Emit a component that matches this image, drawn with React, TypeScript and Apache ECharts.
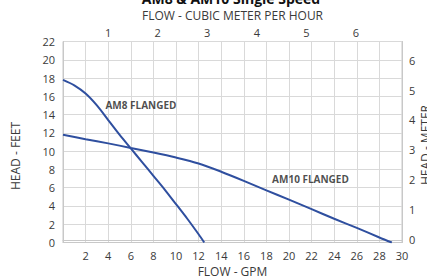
import React, { useEffect, useRef } from "react";
import * as echarts from "echarts";

const titleText = "AM8 & AM10 Single Speed";
const topAxisName = "FLOW - CUBIC METER PER HOUR";
const bottomAxisName = "FLOW - GPM";
const leftAxisName = "HEAD - FEET";
const rightAxisName = "HEAD - METER";

// AM8 flanged curve (GPM, feet)
const am8Flow = [0, 1, 2, 3, 4, 5, 6, 7, 8, 9, 10, 11, 12, 12.5];
const am8Head = [17.8, 17.2, 16.3, 15.0, 13.4, 11.8, 10.3, 8.8, 7.3, 5.8, 4.2, 2.6, 0.9, 0];

// AM10 flanged curve (GPM, feet)
const am10Flow = [0, 2, 4, 6, 8, 10, 12, 14, 16, 18, 20, 22, 24, 26, 28, 29.1];
const am10Head = [11.8, 11.3, 10.85, 10.35, 9.85, 9.3, 8.65, 7.75, 6.75, 5.7, 4.7, 3.65, 2.6, 1.6, 0.55, 0];

// curve labels
const curveLabelNames = ["AM8 FLANGED", "AM10 FLANGED"];
const curveLabelFlow = [6.9, 21.9];
const curveLabelHead = [15.0, 7.0];

// secondary axes tick labels
const cubicMeterTicks = [1, 2, 3, 4, 5, 6];
const meterTicks = [0, 1, 2, 3, 4, 5, 6];

const FONT = "Open Sans";
const TEXT = "#3a3a3a";
const GRID = "#d9d9d9";
const BLUE = "#2f4f9f";

export default function App() {
  const ref = useRef<HTMLDivElement>(null);
  useEffect(() => {
    if (!ref.current) return;
    const chart = echarts.init(ref.current, undefined, { renderer: "svg" });
    const labelStyle = { fontFamily: FONT, fontSize: 11, color: TEXT };
    chart.setOption({
      animation: false,
      textStyle: { fontFamily: FONT },
      graphic: [
        {
          type: "text",
          x: 231,
          y: -2,
          style: {
            text: titleText,
            font: `bold 14px "${FONT}"`,
            fill: "#111",
            align: "center",
            verticalAlign: "middle",
          },
        },
        {
          type: "text",
          x: 15,
          y: 156,
          rotation: Math.PI / 2,
          style: {
            text: leftAxisName,
            font: `12px "${FONT}"`,
            fill: TEXT,
            align: "center",
            verticalAlign: "middle",
          },
        },
        {
          type: "text",
          x: 425,
          y: 145,
          rotation: Math.PI / 2,
          style: {
            text: rightAxisName,
            font: `12px "${FONT}"`,
            fill: TEXT,
            align: "center",
            verticalAlign: "middle",
          },
        },
      ],
      grid: {
        left: 63,
        right: 25,
        top: 41.5,
        bottom: 36.5,
        show: true,
        borderColor: "#c8c8c8",
        borderWidth: 1,
        containLabel: false,
        outerBoundsMode: "none",
      },
      xAxis: [
        {
          type: "value",
          position: "bottom",
          min: 0,
          max: 30,
          interval: 2,
          name: bottomAxisName,
          nameLocation: "middle",
          nameGap: 22,
          nameTextStyle: { ...labelStyle, fontSize: 12 },
          axisLine: { show: true, lineStyle: { color: "#c8c8c8" } },
          axisTick: { show: false },
          axisLabel: { ...labelStyle, margin: 7, formatter: (v: number) => (v === 0 ? "" : String(v)) },
          splitLine: { show: true, lineStyle: { color: GRID } },
        },
        {
          type: "value",
          position: "top",
          min: 0.09,
          max: 6.93,
          name: topAxisName,
          nameLocation: "middle",
          nameGap: 20,
          nameTextStyle: { ...labelStyle, fontSize: 12 },
          axisLine: { show: true, lineStyle: { color: "#c8c8c8" } },
          axisTick: { show: false },
          axisLabel: { ...labelStyle, margin: 4, customValues: cubicMeterTicks },
          splitLine: { show: false },
        },
      ],
      yAxis: [
        {
          type: "value",
          position: "left",
          min: 0,
          max: 22,
          interval: 2,
          axisLine: { show: true, lineStyle: { color: "#c8c8c8" } },
          axisTick: { show: false },
          axisLabel: { ...labelStyle, margin: 8 },
          splitLine: { show: true, lineStyle: { color: GRID } },
        },
        {
          type: "value",
          position: "right",
          min: -0.09,
          max: 6.62,
          axisLine: { show: true, lineStyle: { color: "#c8c8c8" } },
          axisTick: { show: false },
          axisLabel: { ...labelStyle, margin: 7, customValues: meterTicks },
          splitLine: { show: false },
        },
      ],
      series: [
        {
          type: "line",
          name: "AM8 FLANGED",
          xAxisIndex: 0,
          yAxisIndex: 0,
          smooth: 0.3,
          symbol: "none",
          lineStyle: { color: BLUE, width: 2 },
          data: am8Flow.map((x, i) => [x, am8Head[i]]),
        },
        {
          type: "line",
          name: "AM10 FLANGED",
          xAxisIndex: 0,
          yAxisIndex: 0,
          smooth: 0.3,
          symbol: "none",
          lineStyle: { color: BLUE, width: 2 },
          data: am10Flow.map((x, i) => [x, am10Head[i]]),
        },
        {
          type: "scatter",
          xAxisIndex: 0,
          yAxisIndex: 0,
          symbolSize: 1,
          itemStyle: { color: "rgba(0,0,0,0)" },
          label: {
            show: true,
            position: "inside",
            formatter: (p: any) => p.data[2],
            fontFamily: FONT,
            fontSize: 10,
            fontWeight: "bold",
            color: "#1e1e1e",
          },
          data: curveLabelFlow.map((x, i) => [x, curveLabelHead[i], curveLabelNames[i]]),
        },
      ],
    });
    return () => chart.dispose();
  }, []);
  return (
    <div
      ref={ref}
      style={{ position: "fixed", left: 0, top: 0, width: 427, height: 279, background: "#fff" }}
    />
  );
}
